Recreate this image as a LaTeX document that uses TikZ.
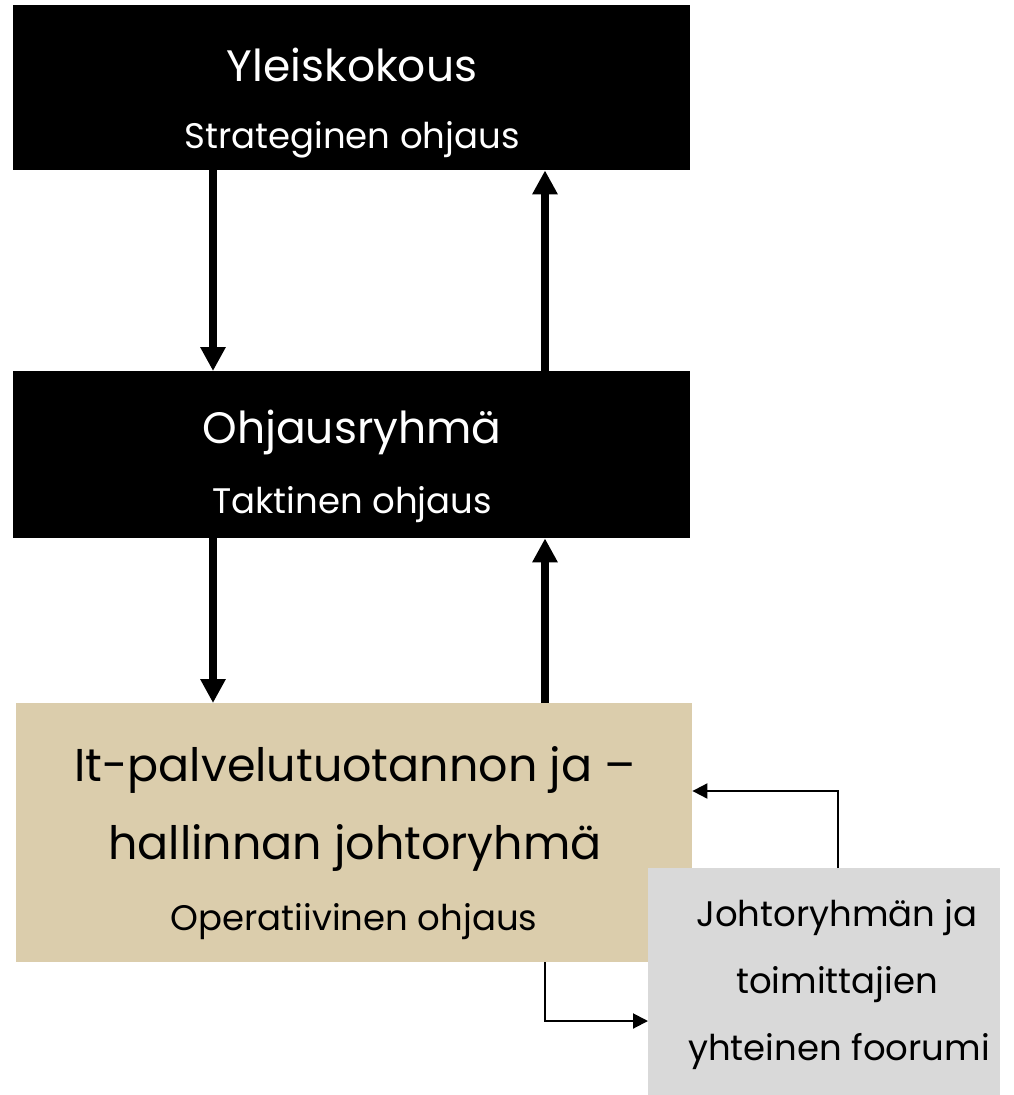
\documentclass[tikz,border=0pt]{standalone}
\usepackage{fontspec}
\setmainfont{Poppins}
\usetikzlibrary{arrows.meta}
\definecolor{tanbox}{HTML}{DBCDAC}
\definecolor{greybox}{HTML}{D9D9D9}
\tikzset{
  box/.style={draw=none, inner sep=0pt, anchor=north west},
  big/.style={font=\fontsize{44}{50}\selectfont},
  sub/.style={font=\fontsize{35.5}{40}\selectfont},
  tanbig/.style={font=\fontsize{46}{52}\selectfont},
  gtxt/.style={font=\fontsize{35.5}{40}\selectfont},
  thick arrow/.style={line width=7.5pt, -{Triangle[width=24pt,length=24pt]}},
  thin arrow/.style={line width=2pt, -{Triangle[width=15pt,length=15pt]}},
}
\begin{document}
\begin{tikzpicture}[x=1pt,y=-1pt]
\useasboundingbox (0,0) rectangle (1014,1095);
% boxes
\node[box, fill=black, minimum width=677pt, minimum height=165pt] (top) at (13,5) {};
\node[box, fill=black, minimum width=677pt, minimum height=167pt] (mid) at (13,371) {};
\node[box, fill=tanbox, minimum width=676pt, minimum height=259pt] (low) at (16,703) {};
\node[box, fill=greybox, minimum width=352pt, minimum height=227pt] (grey) at (648,868) {};
% texts
\node[big, text=white] (t1) at (352,65) {Yleiskokous};
\node[sub, text=white] (t2) at (352,140) {Strateginen ohjaus};
\node[big, text=white] (m1) at (352,432) {Ohjausryhmä};
\node[sub, text=white] (m2) at (352,505) {Taktinen ohjaus};
\node[tanbig] (l1) at (355,770) {It-palvelutuotannon ja –};
\node[tanbig] (l2) at (355,848) {hallinnan johtoryhmä};
\node[sub] (l3) at (354,922) {Operatiivinen ohjaus};
\node[gtxt] (g1) at (837,918) {Johtoryhmän ja};
\node[gtxt] (g2) at (837,985) {toimittajien};
\node[gtxt] (g3) at (839,1052) {yhteinen foorumi};
% thick arrows
\coordinate (xl) at (213,0);
\coordinate (xr) at (545,0);
\draw[thick arrow] (top.south -| xl) -- (mid.north -| xl);
\draw[thick arrow] (mid.north -| xr) -- (top.south -| xr);
\draw[thick arrow] (mid.south -| xl) -- (low.north -| xl);
\draw[thick arrow] (low.north -| xr) -- (mid.south -| xr);
% thin arrows
\coordinate (b1) at (838,791);
\coordinate (b2) at (545,1021);
\draw[thin arrow] (grey.north -| b1) -- (b1) -- (b1 -| low.east);
\draw[thin arrow] (low.south -| b2) -- (b2) -- (b2 -| grey.west);
\end{tikzpicture}
\end{document}
